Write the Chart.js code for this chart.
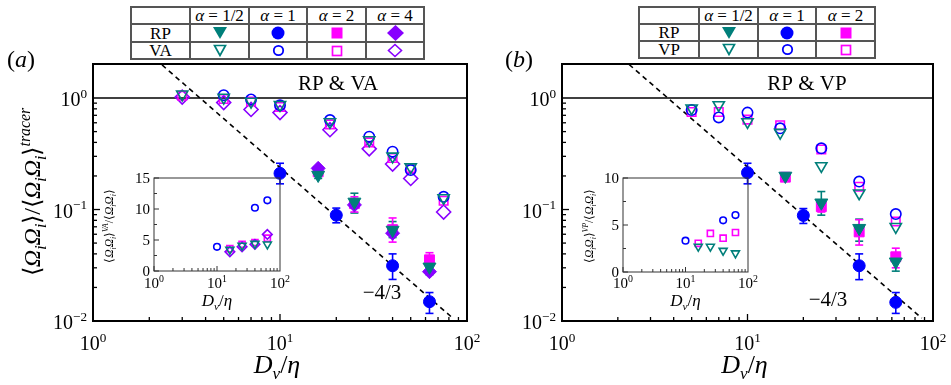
<!DOCTYPE html>
<html>
<head>
<meta charset="utf-8">
<script src="https://cdn.jsdelivr.net/npm/chart.js@4.4.1/dist/chart.umd.min.js"></script>
<style>
body { margin: 0; background: #fff; width: 951px; height: 385px; overflow: hidden; position: relative; font-family: "Liberation Serif", serif; }
canvas { position: absolute; }
table.lg { position: absolute; border-collapse: collapse; table-layout: fixed; font-family: "Liberation Serif", serif; font-size: 17px; z-index: 5; background: #fff; }
table.lg td { border: 2px solid #555; height: 15px; padding: 0; text-align: center; line-height: 15px; white-space: nowrap; }
table.lg svg { display: block; margin: 0 auto; }
</style>
</head>
<body>
<canvas id="chartA" width="500" height="385" style="left:0;top:0"></canvas>
<canvas id="chartB" width="475" height="385" style="left:476px;top:0"></canvas>
<canvas id="insetA" width="190" height="160" style="left:100px;top:160px"></canvas>
<canvas id="insetB" width="190" height="160" style="left:570px;top:160px"></canvas>

<table class="lg" style="left:130px;top:6px">
  <colgroup><col style="width:59px"><col style="width:59px"><col style="width:58px"><col style="width:59px"><col style="width:58px"></colgroup>
  <tr><td></td><td><i>α</i> = 1/2</td><td><i>α</i> = 1</td><td><i>α</i> = 2</td><td><i>α</i> = 4</td></tr>
  <tr><td>RP</td>
    <td><svg width="16" height="14"><polygon points="1,1 15,1 8,13" fill="#007f7a"/></svg></td>
    <td><svg width="14" height="14"><circle cx="7" cy="7" r="6.5" fill="#0000ff"/></svg></td>
    <td><svg width="12" height="12"><rect x="0.5" y="0.5" width="11" height="11" fill="#ff00ff"/></svg></td>
    <td><svg width="17" height="16"><polygon points="8.5,0 17,8 8.5,16 0,8" fill="#8800ff"/></svg></td></tr>
  <tr><td>VA</td>
    <td><svg width="14" height="13"><polygon points="1.5,1.5 12.5,1.5 7,11.5" fill="none" stroke="#007f7a" stroke-width="1.7"/></svg></td>
    <td><svg width="13" height="13"><circle cx="6.5" cy="6.5" r="4.7" fill="none" stroke="#0000ff" stroke-width="1.8"/></svg></td>
    <td><svg width="12" height="12"><rect x="1.5" y="1.5" width="9" height="9" fill="none" stroke="#ff00ff" stroke-width="1.7"/></svg></td>
    <td><svg width="16" height="15"><polygon points="8,1.5 14.5,7.5 8,13.5 1.5,7.5" fill="none" stroke="#8800ff" stroke-width="1.6"/></svg></td></tr>
</table>

<table class="lg" style="left:638px;top:6px">
  <colgroup><col style="width:60px"><col style="width:59px"><col style="width:58px"><col style="width:59px"></colgroup>
  <tr><td></td><td><i>α</i> = 1/2</td><td><i>α</i> = 1</td><td><i>α</i> = 2</td></tr>
  <tr><td>RP</td>
    <td><svg width="16" height="14"><polygon points="1,1 15,1 8,13" fill="#007f7a"/></svg></td>
    <td><svg width="14" height="14"><circle cx="7" cy="7" r="6.5" fill="#0000ff"/></svg></td>
    <td><svg width="12" height="12"><rect x="0.5" y="0.5" width="11" height="11" fill="#ff00ff"/></svg></td></tr>
  <tr><td>VP</td>
    <td><svg width="14" height="13"><polygon points="1.5,1.5 12.5,1.5 7,11.5" fill="none" stroke="#007f7a" stroke-width="1.7"/></svg></td>
    <td><svg width="13" height="13"><circle cx="6.5" cy="6.5" r="4.7" fill="none" stroke="#0000ff" stroke-width="1.8"/></svg></td>
    <td><svg width="12" height="12"><rect x="1.5" y="1.5" width="9" height="9" fill="none" stroke="#ff00ff" stroke-width="1.7"/></svg></td></tr>
</table>

<script>
const TEAL = '#007f7a', BLUE = '#0000ff', MAG = '#ff00ff', VIO = '#8800ff';

// ---- panel (a): RP & VA ----
const xRP = [16, 25, 40, 63];
const xRPone = [10, 20, 40, 63];
const xVA = [3, 5, 7, 10, 18.5, 30, 40, 50, 75];

const rpA_half = [0.204, 0.117, 0.0655, 0.0306];
const rpA_one = [0.211, 0.089, 0.0313, 0.0149];
const rpA_two = [0.218, 0.113, 0.066, 0.0354];
const rpA_four = [0.234, 0.110, 0.0613, 0.0277];
const errA_half = [[0.19, 0.215], [0.093, 0.14], [0.056, 0.078], [0.026, 0.036]];
const errA_one = [[0.17, 0.26], [0.076, 0.103], [0.0236, 0.040], [0.0117, 0.018]];
const errA_two = [[0.2, 0.235], [0.095, 0.13], [0.051, 0.084], [0.028, 0.041]];

const vaA_half = [1.08, 1.01, 0.93, 0.87, 0.61, 0.42, 0.30, 0.24, 0.127];
const vaA_one = [null, 1.06, 0.97, 0.86, 0.635, 0.45, 0.33, 0.226, 0.13];
const vaA_two = [1.05, 0.98, 0.93, 0.83, 0.58, 0.40, 0.29, 0.235, 0.12];
const vaA_four = [1.02, 0.91, 0.79, 0.74, 0.52, 0.35, 0.256, 0.19, 0.095];

// inset (a): VA / RP ratio
const xIn = [16, 25, 40, 63];
const xInOne = [10, 40, 63];
const inA_half = [3.45, 4.1, 4.4, 4.3];
const inA_one = [3.9, 10.2, 11.4];
const inA_two = [3.6, 4.3, 4.6, 5.3];
const inA_four = [3.1, 3.9, 4.3, 5.9];

// ---- panel (b): RP & VP ----
const xVP = [5, 7, 10, 15, 25, 40, 63];

const rpB_half = [0.2, 0.115, 0.068, 0.034];
const rpB_one = [0.214, 0.0885, 0.0313, 0.0147];
const rpB_two = [0.195, 0.106, 0.063, 0.0377];
const errB_half = [[0.19, 0.21], [0.089, 0.145], [0.052, 0.082], [0.028, 0.04]];
const errB_one = [[0.17, 0.26], [0.075, 0.102], [0.0235, 0.040], [0.0117, 0.018]];
const errB_two = [[0.185, 0.205], [0.095, 0.12], [0.048, 0.081], [0.03, 0.045]];

const vpB_half = [0.81, 0.866, 0.61, 0.49, 0.246, 0.14, 0.07];
const vpB_one = [0.78, 0.67, 0.74, 0.535, 0.354, 0.178, 0.091];
const vpB_two = [0.75, 0.75, 0.64, 0.57, 0.346, 0.16, 0.078];

// inset (b): VP / RP ratio
const inB_half = [2.7, 2.7, 2.27, 2.0];
const inB_one = [3.33, 5.5, 6.06];
const inB_two = [3.05, 4.1, 3.6, 4.2];

// reference lines
const unitLine = [[1, 1], [100, 1]];
const slopeA = [[2.34, 1.98], [84, 0.0106]];
const slopeB = [[2.3, 2.0], [87, 0.0106]];

// tick labels
const decX = [1, 10, 100];
const expX = ['0', '1', '2'];
const decY = [0.01, 0.1, 1];
const expY = ['−2', '−1', '0'];
const inTicksA = [0, 5, 10, 15];
const inTicksB = [0, 5, 10];

function pts(xs, ys) {
	return xs.map((x, i) => ({ x: x, y: ys[i] }));
}

function lineSet(pairs, dash) {
	return {
		data: pairs.map(p => ({ x: p[0], y: p[1] })),
		showLine: true,
		borderColor: '#000',
		borderWidth: 1.6,
		borderDash: dash ? [5, 4] : [],
		pointRadius: 0,
		order: 10,
	};
}

const shapes = {
	tri: { pointStyle: 'triangle', pointRotation: 180 },
	circ: { pointStyle: 'circle', pointRotation: 0 },
	sq: { pointStyle: 'rect', pointRotation: 0 },
	dia: { pointStyle: 'rectRot', pointRotation: 0 },
};
const rFill = { tri: 7.5, circ: 6, sq: 7, dia: 7 };
const rOpen = { tri: 6.5, circ: 5.2, sq: 6, dia: 7 };
const rInset = { tri: 4.6, circ: 3.3, sq: 4.3, dia: 4.8 };

function markSet(xs, ys, shape, col, open, r, err, order) {
	return Object.assign({
		data: pts(xs, ys),
		showLine: false,
		pointRadius: r,
		pointBackgroundColor: open ? 'rgba(0,0,0,0)' : col,
		pointBorderColor: col,
		pointBorderWidth: open ? 1.6 : 1,
		err: err || null,
		order: order,
	}, shapes[shape]);
}

// text with italic / subscript / superscript pieces: [text, italic, shift]
function rich(ctx, parts, x, y, size, align, rot) {
	ctx.save();
	ctx.translate(x, y);
	if (rot) ctx.rotate(rot);
	let w = 0;
	const items = parts.map(p => {
		const fs = p[2] ? size * 0.66 : size;
		const font = (p[1] ? 'italic ' : '') + fs + 'px "Liberation Serif", serif';
		ctx.font = font;
		const tw = ctx.measureText(p[0]).width;
		w += tw;
		return { t: p[0], font: font, w: tw, dy: p[2] == -1 ? size * 0.24 : (p[2] == 1 ? -size * 0.42 : 0) };
	});
	let cx = align == 'center' ? -w / 2 : (align == 'right' ? -w : 0);
	ctx.fillStyle = '#000';
	ctx.textAlign = 'left';
	ctx.textBaseline = 'alphabetic';
	items.forEach(it => {
		ctx.font = it.font;
		ctx.fillText(it.t, cx, it.dy);
		cx += it.w;
	});
	ctx.restore();
}

function seg(ctx, x1, y1, x2, y2) {
	ctx.beginPath();
	ctx.moveTo(x1, y1);
	ctx.lineTo(x2, y2);
	ctx.stroke();
}

const OmOm = [['⟨', 0, 0], ['Ω', 1, 0], ['i', 1, -1], ['Ω', 1, 0], ['i', 1, -1], ['⟩', 0, 0]];
const yTitle = OmOm.concat([['/', 0, 0]], OmOm, [['tracer', 1, 1]]);
const xTitle = [['D', 1, 0], ['v', 1, -1], ['/', 0, 0], ['η', 1, 0]];

function drawErrors(chart) {
	const ctx = chart.ctx, ys = chart.scales.y;
	chart.data.datasets.forEach((ds, i) => {
		if (!ds.err) return;
		const meta = chart.getDatasetMeta(i);
		ctx.save();
		ctx.strokeStyle = ds.pointBorderColor;
		ctx.lineWidth = 1.6;
		ds.err.forEach((e, j) => {
			const p = meta.data[j];
			if (!e || !p) return;
			const y1 = ys.getPixelForValue(e[0]), y2 = ys.getPixelForValue(e[1]);
			seg(ctx, p.x, y1, p.x, y2);
			seg(ctx, p.x - 4, y1, p.x + 4, y1);
			seg(ctx, p.x - 4, y2, p.x + 4, y2);
		});
		ctx.restore();
	});
}

function mainDecor(c) {
	return {
		id: 'deco',
		beforeDatasetsDraw(chart) { drawErrors(chart); },
		afterDraw(chart) {
			const ctx = chart.ctx, a = chart.chartArea, xs = chart.scales.x, ys = chart.scales.y;
			ctx.save();
			ctx.strokeStyle = '#000';
			ctx.lineWidth = 2;
			ctx.strokeRect(a.left, a.top, a.right - a.left, a.bottom - a.top);
			ctx.lineWidth = 1.3;
			for (let d = 0; d < 2; d++) {
				for (let k = 1; k < 10; k++) {
					const px = xs.getPixelForValue(k * Math.pow(10, d));
					seg(ctx, px, a.bottom, px, a.bottom - (k == 1 ? 7 : 4));
				}
			}
			for (let d = -2; d < 0; d++) {
				for (let k = 1; k < 10; k++) {
					const py = ys.getPixelForValue(k * Math.pow(10, d));
					seg(ctx, a.left, py, a.left + (k == 1 ? 7 : 4), py);
				}
			}
			decX.forEach((v, i) => {
				rich(ctx, [['10', 0, 0], [expX[i], 0, 1]], xs.getPixelForValue(v), 350, 20, 'center');
			});
			decY.forEach((v, i) => {
				rich(ctx, [['10', 0, 0], [expY[i], 0, 1]], a.left - 6, ys.getPixelForValue(v) + 8, 20, 'right');
			});
			rich(ctx, xTitle, (a.left + a.right) / 2 - 3, 373, 26, 'center');
			rich(ctx, [[c.tag, 0, 0]], c.tagX, 90, 21, 'center');
			rich(ctx, [['−4/3', 0, 0]], c.slopeX, c.slopeY, 21, 'center');
			rich(ctx, [['(', 0, 0], [c.panel, 1, 0], [')', 0, 0]], c.panelX, 67, 24, 'left');
			if (c.yTitle) rich(ctx, yTitle, 40, 192, 24, 'center', -Math.PI / 2);
			ctx.restore();
		}
	};
}

function insetDecor(c) {
	return {
		id: 'insdeco',
		afterDraw(chart) {
			const ctx = chart.ctx, a = chart.chartArea, xs = chart.scales.x, ys = chart.scales.y;
			ctx.save();
			ctx.strokeStyle = '#333';
			ctx.lineWidth = 1;
			ctx.strokeRect(a.left, a.top, a.right - a.left, a.bottom - a.top);
			for (let d = 0; d < 2; d++) {
				for (let k = 1; k < 10; k++) {
					const px = xs.getPixelForValue(k * Math.pow(10, d));
					seg(ctx, px, a.bottom, px, a.bottom - (k == 1 ? 5 : 3));
				}
			}
			c.yTicks.forEach(v => {
				const py = ys.getPixelForValue(v);
				seg(ctx, a.left, py, a.left + 5, py);
				const pm = ys.getPixelForValue(v + 2.5);
				if (v + 2.5 < c.yMax) seg(ctx, a.left, pm, a.left + 3, pm);
				rich(ctx, [[String(v), 0, 0]], a.left - 4, py + 5, 15, 'right');
			});
			decX.forEach((v, i) => {
				rich(ctx, [['10', 0, 0], [expX[i], 0, 1]], xs.getPixelForValue(v), 128, 15, 'center');
			});
			rich(ctx, xTitle, (a.left + a.right) / 2, 146, 17, 'center');
			const t = OmOm.concat([[c.sup, 1, 1], ['/', 0, 0]], OmOm);
			rich(ctx, t, c.titleX, 66, 11.5, 'center', -Math.PI / 2);
			ctx.restore();
		}
	};
}

function axes(yType, yMin, yMax, yW, xH) {
	return {
		x: { type: 'logarithmic', min: 1, max: 100, ticks: { display: false }, grid: { display: false }, border: { display: false }, afterFit: s => { s.height = xH; } },
		y: { type: yType, min: yMin, max: yMax, ticks: { display: false }, grid: { display: false }, border: { display: false }, afterFit: s => { s.width = yW; } },
	};
}

function baseOptions(pad, sc) {
	return {
		responsive: false,
		animation: false,
		layout: { padding: pad },
		plugins: { legend: { display: false }, tooltip: { enabled: false } },
		scales: sc,
	};
}

let graficoA = new Chart(document.getElementById('chartA'), {
	type: 'scatter',
	data: {
		datasets: [
			markSet(xRP, rpA_half, 'tri', TEAL, false, rFill.tri, errA_half, 1),
			markSet(xRP, rpA_four, 'dia', VIO, false, rFill.dia, null, 2),
			markSet(xRP, rpA_two, 'sq', MAG, false, rFill.sq, errA_two, 3),
			markSet(xRPone, rpA_one, 'circ', BLUE, false, rFill.circ, errA_one, 0),
			markSet(xVA, vaA_half, 'tri', TEAL, true, rOpen.tri, null, 4),
			markSet(xVA, vaA_one, 'circ', BLUE, true, rOpen.circ, null, 5),
			markSet(xVA, vaA_two, 'sq', MAG, true, rOpen.sq, null, 6),
			markSet(xVA, vaA_four, 'dia', VIO, true, rOpen.dia, null, 7),
			lineSet(unitLine, false),
			lineSet(slopeA, true),
		],
	},
	options: baseOptions({ top: 64, right: 33, left: 0, bottom: 0 }, axes('logarithmic', 0.01, 2.02, 93, 64)),
	plugins: [mainDecor({ tag: 'RP & VA', tagX: 338, slopeX: 382, slopeY: 299, panel: 'a', panelX: 7, yTitle: true })],
});

let graficoB = new Chart(document.getElementById('chartB'), {
	type: 'scatter',
	data: {
		datasets: [
			markSet(xRP, rpB_half, 'tri', TEAL, false, rFill.tri, errB_half, 1),
			markSet(xRP, rpB_two, 'sq', MAG, false, rFill.sq, errB_two, 2),
			markSet(xRPone, rpB_one, 'circ', BLUE, false, rFill.circ, errB_one, 0),
			markSet(xVP, vpB_half, 'tri', TEAL, true, rOpen.tri, null, 4),
			markSet(xVP, vpB_one, 'circ', BLUE, true, rOpen.circ, null, 5),
			markSet(xVP, vpB_two, 'sq', MAG, true, rOpen.sq, null, 6),
			lineSet(unitLine, false),
			lineSet(slopeB, true),
		],
	},
	options: baseOptions({ top: 64, right: 18, left: 0, bottom: 0 }, axes('logarithmic', 0.01, 2.02, 86, 64)),
	plugins: [mainDecor({ tag: 'RP & VP', tagX: 331, slopeX: 352, slopeY: 306, panel: 'b', panelX: 29, yTitle: false })],
});

let insetA = new Chart(document.getElementById('insetA'), {
	type: 'scatter',
	data: {
		datasets: [
			markSet(xIn, inA_half, 'tri', TEAL, true, rInset.tri, null, 1),
			markSet(xIn, inA_two, 'sq', MAG, true, rInset.sq, null, 3),
			markSet(xIn, inA_four, 'dia', VIO, true, rInset.dia, null, 2),
			markSet(xInOne, inA_one, 'circ', BLUE, true, rInset.circ, null, 0),
		],
	},
	options: baseOptions({ top: 18, right: 10, left: 0, bottom: 0 }, axes('linear', 0, 15, 54, 49)),
	plugins: [insetDecor({ yTicks: inTicksA, yMax: 15, sup: 'VA', titleX: 13 })],
});

let insetB = new Chart(document.getElementById('insetB'), {
	type: 'scatter',
	data: {
		datasets: [
			markSet(xIn, inB_half, 'tri', TEAL, true, rInset.tri, null, 1),
			markSet(xIn, inB_two, 'sq', MAG, true, rInset.sq, null, 2),
			markSet(xInOne, inB_one, 'circ', BLUE, true, rInset.circ, null, 0),
		],
	},
	options: baseOptions({ top: 18, right: 12, left: 0, bottom: 0 }, axes('linear', 0, 10, 53, 48)),
	plugins: [insetDecor({ yTicks: inTicksB, yMax: 10, sup: 'VP', titleX: 23 })],
});
</script>
</body>
</html>
